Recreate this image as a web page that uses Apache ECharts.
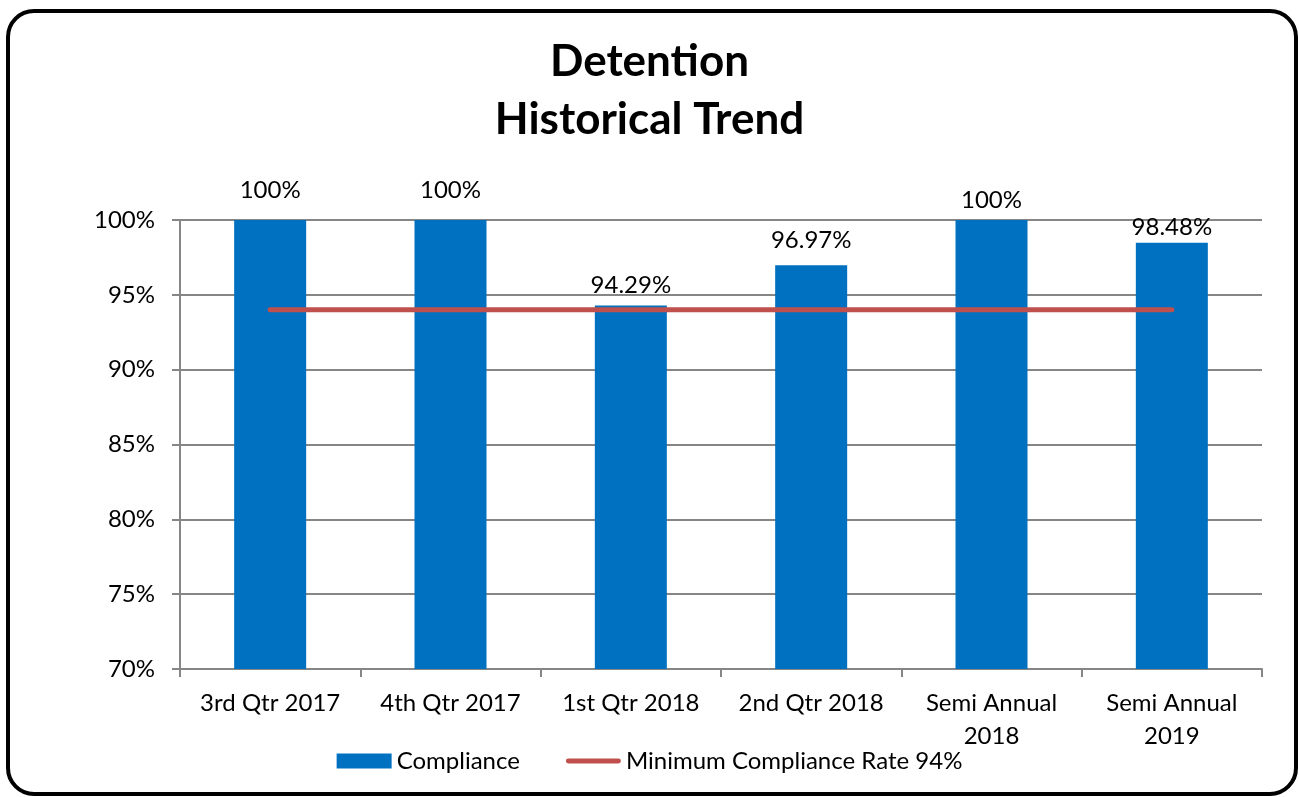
<!DOCTYPE html>
<html>
<head>
<meta charset="utf-8">
<script src="https://cdn.jsdelivr.net/npm/echarts@6/dist/echarts.min.js"></script>
<style>
  html, body { margin: 0; padding: 0; background: #fff; }
  #chart { width: 1299px; height: 797px; }
</style>
</head>
<body>
<div id="chart"></div>
<script>
var categories = ["3rd Qtr 2017", "4th Qtr 2017", "1st Qtr 2018", "2nd Qtr 2018", "Semi Annual 2018", "Semi Annual 2019"];
var compliance = [100, 100, 94.29, 96.97, 100, 98.48];
var minimumRate = [94, 94, 94, 94, 94, 94];
var barName = "Compliance";
var lineName = "Minimum Compliance Rate 94%";

var FONT = "Lato";
// excel moved some labels by hand
var labelGap = [18, 18, 8, 13, 8, 3];

var chart = echarts.init(document.getElementById("chart"));

chart.setOption({
  animation: false,
  textStyle: { fontFamily: FONT },
  title: {
    text: "Detention\nHistorical Trend",
    left: "center",
    top: 28,
    textStyle: { fontFamily: FONT, fontSize: 44, fontWeight: "bold", color: "#000", lineHeight: 58 },
  },
  graphic: [
    {
      type: "rect",
      shape: { x: 8, y: 11, width: 1288, height: 783, r: 26 },
      style: { fill: "none", stroke: "#000", lineWidth: 4 },
      z: 100,
    },
  ],
  legend: {
    bottom: 19,
    left: "center",
    itemWidth: 55,
    itemHeight: 15,
    itemGap: 46,
    textStyle: { fontFamily: FONT, fontSize: 24, color: "#000" },
    data: [
      { name: barName, icon: "rect" },
      {
        name: lineName,
        icon: "path://M2.5,0 L54.5,0 A2.5,2.5 0 0 1 54.5,5 L2.5,5 A2.5,2.5 0 0 1 2.5,0 Z",
        itemStyle: { color: "#C0504D" },
      },
    ],
  },
  grid: { left: 180, right: 37, top: 220, bottom: 128 },
  xAxis: {
    type: "category",
    data: categories,
    axisLine: { lineStyle: { color: "#868686", width: 2 } },
    axisTick: { show: true, length: 8, alignWithLabel: false, lineStyle: { color: "#868686", width: 2 } },
    axisLabel: {
      color: "#000",
      fontSize: 24,
      margin: 18,
      lineHeight: 33,
      interval: 0,
      formatter: function (v) {
        return v.length > 12 ? v.replace(/ (\d{4})$/, "\n$1") : v;
      },
    },
  },
  yAxis: {
    type: "value",
    min: 70,
    max: 100,
    interval: 5,
    axisLine: { show: true, lineStyle: { color: "#868686", width: 2 } },
    axisTick: { show: true, length: 8, lineStyle: { color: "#868686", width: 2 } },
    splitLine: { lineStyle: { color: "#868686", width: 2 } },
    axisLabel: { color: "#000", fontSize: 24, margin: 25, formatter: "{value}%" },
  },
  series: [
    {
      name: barName,
      type: "bar",
      barWidth: 72,
      itemStyle: { color: "#0070C0" },
      data: compliance.map(function (v, i) {
        return { value: v, label: { distance: labelGap[i] } };
      }),
      label: {
        show: true,
        position: "top",
        color: "#000",
        fontSize: 24,
        formatter: function (p) { return p.value + "%"; },
      },
    },
    {
      name: lineName,
      type: "line",
      data: minimumRate,
      symbol: "none",
      lineStyle: { color: "#C0504D", width: 5, cap: "round" },
      itemStyle: { color: "#C0504D" },
      z: 3,
    },
  ],
});
</script>
</body>
</html>
